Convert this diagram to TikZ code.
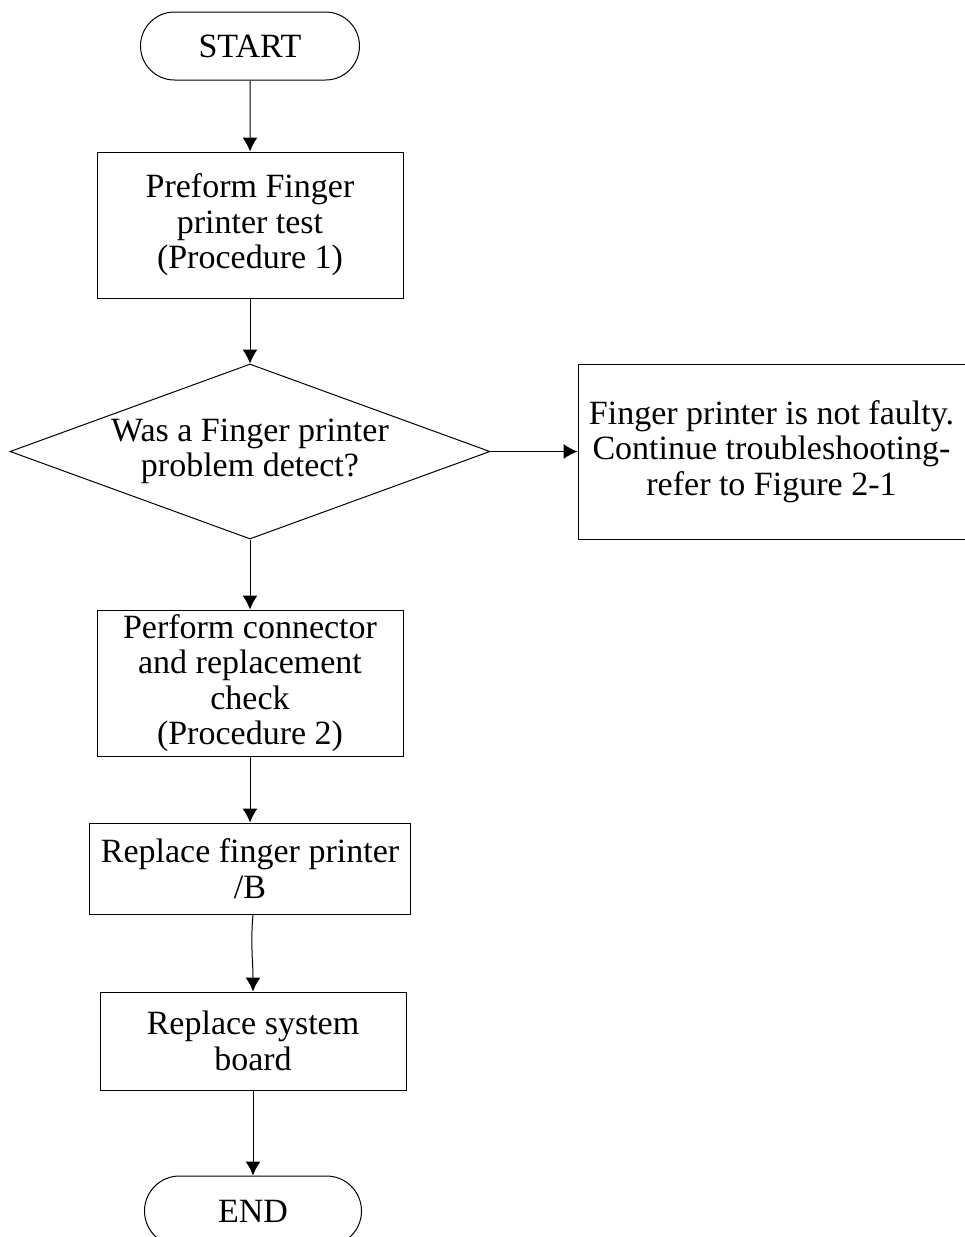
\documentclass[tikz,border=0pt]{standalone}
\usepackage{fontspec}
\setmainfont{Liberation Serif}
\usetikzlibrary{arrows.meta}
\usetikzlibrary{positioning}
\usetikzlibrary{shapes.geometric}
\usetikzlibrary{shapes.misc}

\begin{document}
\begin{tikzpicture}[x=1pt,y=-1pt,
        every node/.style={font=\fontsize{34}{35.5}\selectfont,line width=1pt},
        terminal/.style={draw,rounded rectangle,minimum width=219pt,minimum height=68pt,inner sep=0pt},
        process/.style={draw,rectangle,minimum width=306pt,minimum height=146pt,align=center,inner sep=2pt},
        decision/.style={draw,diamond,aspect=2.74,inner sep=0pt,align=center,minimum width=480pt,minimum height=175pt},
        flow/.style={-{Latex[length=14pt,width=15pt]},line width=1pt}]
        \useasboundingbox (0,0) rectangle (964,1237);
        \node [terminal] (start) at (250,46) {START};
        \node [process] (perform) [below=71pt of start] {Preform Finger\\printer test\\(Procedure 1)};
        \node [decision] (detect) [below=65pt of perform] {Was a Finger printer\\problem detect?};
        \node [process,minimum width=387pt,minimum height=175pt] (notfaulty) [right=87pt of detect] {Finger printer is not faulty.\\Continue troubleshooting-\\refer to Figure 2-1};
        \node [process] (connector) [below=70pt of detect] {Perform connector\\and replacement\\check\\(Procedure 2)};
        \node [process,minimum width=321pt,minimum height=91pt] (replacefp) [below=66pt of connector] {Replace finger printer\\/B};
        \node [process,minimum height=98pt] (replacesb) [below=77pt of replacefp,xshift=3pt] {Replace system\\board};
        \node [terminal,minimum width=217pt,minimum height=70pt] (end) [below=85pt of replacesb] {END};
        \draw[flow] (start) -- (perform);
        \draw[flow] (perform) -- (detect);
        \draw[flow] (detect) -- (notfaulty);
        \draw[flow] (detect) -- (connector);
        \draw[flow] (connector) -- (replacefp);
        \draw[flow] ([xshift=3pt]replacefp.south) to [out=265,in=90] (replacesb.north);
        \draw[flow] (replacesb) -- (end);
    \end{tikzpicture}
\end{document}
